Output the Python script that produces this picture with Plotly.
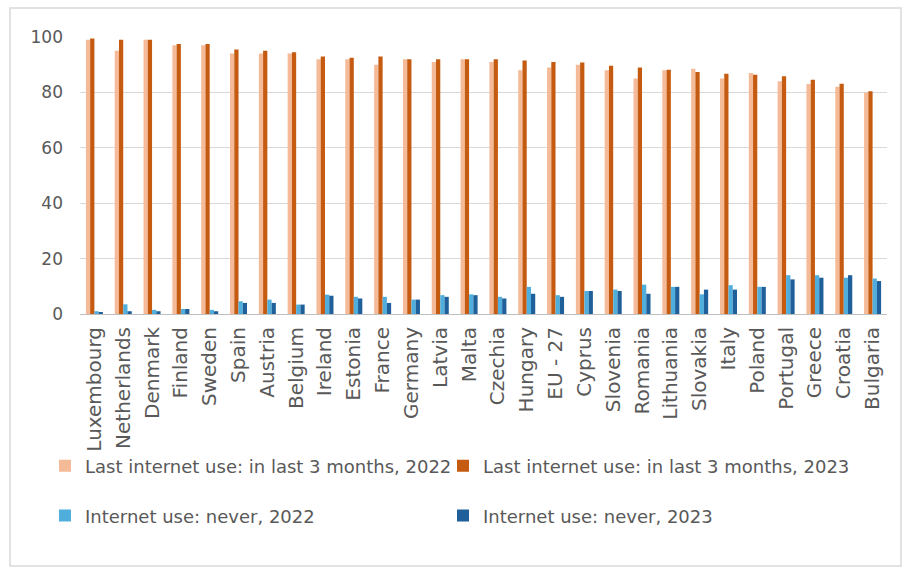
import plotly.graph_objects as go

countries = ["Luxembourg", "Netherlands", "Denmark", "Finland", "Sweden", "Spain", "Austria",
             "Belgium", "Ireland", "Estonia", "France", "Germany", "Latvia", "Malta", "Czechia",
             "Hungary", "EU - 27", "Cyprus", "Slovenia", "Romania", "Lithuania", "Slovakia",
             "Italy", "Poland", "Portugal", "Greece", "Croatia", "Bulgaria"]

last3m_2022 = [99, 95, 99, 97, 97, 94, 94, 94, 92, 92, 90, 92, 91, 92, 91, 88, 89, 90,
               88, 85, 88, 88.5, 85, 87, 84, 83, 82, 80]
last3m_2023 = [99.5, 99, 99, 97.5, 97.5, 95.5, 95, 94.5, 93, 92.5, 93, 92, 92, 92, 92, 91.5,
               91, 90.8, 89.6, 89, 88.2, 87.4, 86.7, 86.4, 85.8, 84.6, 83.1, 80.4]
never_2022 = [1, 3.5, 1.5, 1.8, 1.5, 4.6, 5.2, 3.4, 7, 6.2, 6.2, 5.2, 6.8, 7.1, 6.2, 9.8,
              6.8, 8.3, 8.8, 10.6, 9.8, 7.1, 10.4, 9.8, 14, 14, 13.1, 12.8]
never_2023 = [0.5, 1, 1, 1.8, 1, 4, 4, 3.4, 6.6, 5.6, 4, 5.2, 6.2, 6.8, 5.6, 7.3, 6.2, 8.3,
              8.3, 7.3, 9.8, 8.8, 8.8, 9.8, 12.5, 13.1, 14, 11.9]

series = [
    ("Last internet use: in last 3 months, 2022", last3m_2022, "#F5BA98", "legend"),
    ("Last internet use: in last 3 months, 2023", last3m_2023, "#C55A11", "legend2"),
    ("Internet use: never, 2022", never_2022, "#4FAEDB", "legend3"),
    ("Internet use: never, 2023", never_2023, "#1F5F9A", "legend4"),
]

fig = go.Figure()
for name, vals, color, lg in series:
    fig.add_trace(go.Bar(x=countries, y=vals, name=name, marker_color=color,
                         marker_line_width=0, legend=lg, showlegend=True))

FONT = "DejaVu Sans"
TXT = "#595959"

leg_common = dict(orientation="h", xanchor="left", yanchor="top",
                  font=dict(size=18, color=TXT), itemwidth=30, bgcolor="rgba(0,0,0,0)")

col1_x = (45 - 80) / 807
col2_x = (443 - 80) / 807
row1_y = -0.482
row2_y = -0.662

fig.update_layout(
    width=903, height=569,
    showlegend=True,
    margin=dict(l=80, r=16, t=37, b=255),
    paper_bgcolor="white", plot_bgcolor="white",
    barmode="group", bargap=0.41, bargroupgap=0,
    font=dict(family=FONT, color=TXT),
    xaxis=dict(tickangle=-90, tickfont=dict(size=20, color=TXT), showgrid=False,
               showline=True, linecolor="#bfbfbf", linewidth=1, ticks="",
               ticklabelstandoff=4, fixedrange=True),
    yaxis=dict(range=[0, 100], dtick=20, tickfont=dict(size=17, color=TXT),
               showgrid=True, gridcolor="#d9d9d9", gridwidth=1, zeroline=False,
               ticks="", ticklabelstandoff=16, showline=False),
    legend=dict(x=col1_x, y=row1_y, **leg_common),
    legend2=dict(x=col2_x, y=row1_y, **leg_common),
    legend3=dict(x=col1_x, y=row2_y, **leg_common),
    legend4=dict(x=col2_x, y=row2_y, **leg_common),
    shapes=[dict(type="rect", xref="paper", yref="paper",
                 x0=(10 - 80) / 807, x1=(901 - 80) / 807,
                 y0=(314 - 566) / 277, y1=(314 - 8) / 277,
                 line=dict(color="#d9d9d9", width=1.5), fillcolor="rgba(0,0,0,0)", layer="below")],
)

fig.write_html("out.html")
